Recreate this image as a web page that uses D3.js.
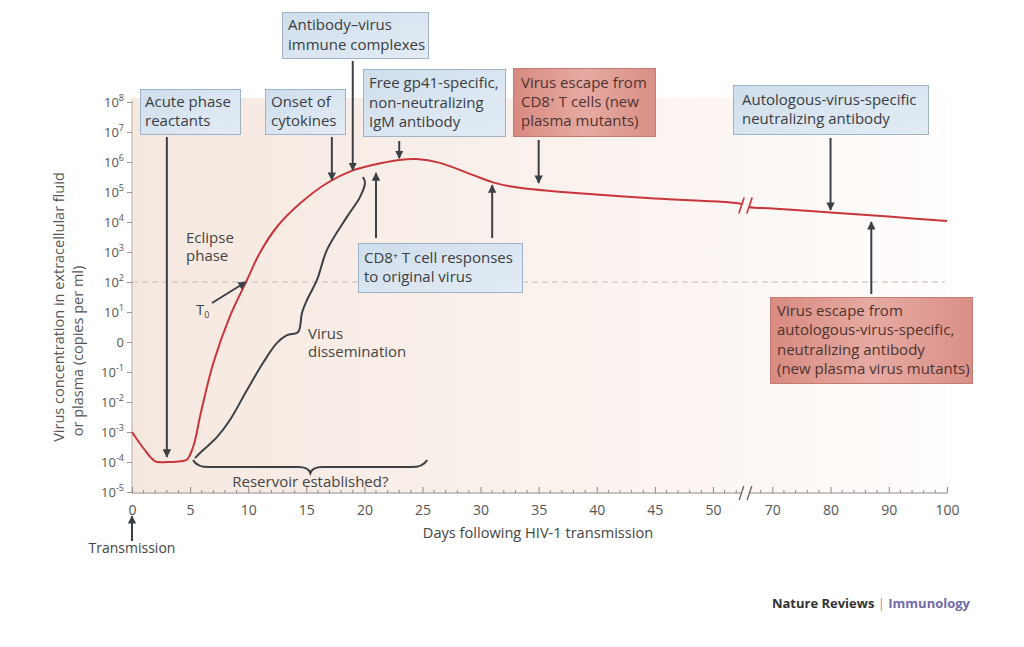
<!DOCTYPE html>
<html><head><meta charset="utf-8">
<script src="https://cdn.jsdelivr.net/npm/d3@7"></script>
<style>
body{margin:0;background:#fff}
svg{display:block}
text{font-family:"Open Sans",sans-serif}
</style>
</head><body>
<svg id="c" width="1024" height="647"></svg>
<script>
// ---------------- DATA ----------------
// Viral load curve: days after transmission vs log10(copies per ml)
const curveDays  = [0, 1, 2, 3, 4, 4.7, 5.3, 5.9, 7, 8.4, 9.9, 11.0, 12.5, 14.5, 16.8, 19, 20.7, 23, 24.5, 26.5, 29.3, 31, 32.5, 34.5, 37, 45, 52.5, 66, 70, 80, 90, 100];
const curveLog10 = [-3.0, -3.55, -3.98, -4.0, -3.98, -3.93, -3.45, -2.4, -0.7, 0.83, 2.07, 2.97, 3.85, 4.63, 5.3, 5.72, 5.9, 6.07, 6.1, 5.97, 5.57, 5.33, 5.19, 5.09, 5.0, 4.78, 4.6, 4.5, 4.45, 4.32, 4.18, 4.03];

// Virus dissemination bracket curve
const dissDays  = [5.42, 5.85, 7.31, 8.43, 9.9, 11.27, 12.48, 13.34, 14.29, 14.63, 15.06, 15.92, 16.78, 18.5, 19.62, 20.05, 19.88];
const dissLog10 = [-3.87, -3.7, -3.17, -2.6, -1.6, -0.7, -0.03, 0.23, 0.33, 0.97, 1.4, 2.07, 3.07, 4.17, 4.83, 5.3, 5.5];

// Axis ticks
const yTickExponents = [-5, -4, -3, -2, -1, 0, 1, 2, 3, 4, 5, 6, 7, 8];
const xMajorTicks = [0, 5, 10, 15, 20, 25, 30, 35, 40, 45, 50, 70, 80, 90, 100];
const xMinorTicks = d3.range(1, 53).concat(d3.range(68, 100, 2));
const thresholdLog10 = 2;

// Annotation boxes (text lines), kinds, and the day / level their arrows point to
const boxLines = [
  ["Acute phase", "reactants"],
  ["Onset of", "cytokines"],
  ["Antibody\u2013virus", "immune complexes"],
  ["Free gp41-specific,", "non-neutralizing", "IgM antibody"],
  ["Virus escape from", "CD8\u207A T cells (new", "plasma mutants)"],
  ["Autologous-virus-specific", "neutralizing antibody"],
  ["CD8\u207A T cell responses", "to original virus"],
  ["Virus escape from", "autologous-virus-specific,", "neutralizing antibody", "(new plasma virus mutants)"]
];
const boxKinds = ["host", "host", "host", "host", "virus", "host", "host", "virus"];
const arrowDays = [[3], [17.2], [19], [23], [35], [80], [21, 31], [87]];
const arrowTipLog10 = [[-3.83], [5.4], [5.73], [6.13], [5.3], [4.4], [5.63, 5.23], [4.0]];

// ---------------- LAYOUT ----------------
const svg = d3.select("#c");
const X0 = 132, Y0 = 102, YB = 492;
const xs = d3.scaleLinear().domain([0, 52.5, 66, 100]).range([X0, 742, 749, 947]);
const ys = d3.scaleLinear().domain([-5, 8]).range([YB, Y0]);
const FS = 15;

const defs = svg.append("defs");
const bg = defs.append("linearGradient").attr("id", "bg").attr("x1", 0).attr("x2", 1).attr("y1", 0).attr("y2", 0);
bg.append("stop").attr("offset", "0%").attr("stop-color", "#f5e8df");
bg.append("stop").attr("offset", "55%").attr("stop-color", "#fbf2ee");
bg.append("stop").attr("offset", "100%").attr("stop-color", "#fffdfc");
const blue = defs.append("linearGradient").attr("id", "blue").attr("x1", 0).attr("x2", 1).attr("y1", 0).attr("y2", 1);
blue.append("stop").attr("offset", "0%").attr("stop-color", "#cfdeec");
blue.append("stop").attr("offset", "100%").attr("stop-color", "#e3ecf5");
const red = defs.append("linearGradient").attr("id", "red").attr("x1", 0).attr("x2", 1).attr("y1", 0).attr("y2", 0);
red.append("stop").attr("offset", "0%").attr("stop-color", "#d88a80");
red.append("stop").attr("offset", "50%").attr("stop-color", "#e6aaa2");
red.append("stop").attr("offset", "100%").attr("stop-color", "#d98f86");
defs.append("marker").attr("id", "ah").attr("viewBox", "0 0 10 10").attr("refX", 9).attr("refY", 5)
  .attr("markerWidth", 4.2).attr("markerHeight", 4.2).attr("orient", "auto").attr("markerUnits", "strokeWidth")
  .append("path").attr("d", "M0,0 L10,5 L0,10 Z").attr("fill", "#3b4146");

// background of plot
svg.append("rect").attr("x", X0).attr("y", 98).attr("width", 947 - X0).attr("height", YB - 98).attr("fill", "url(#bg)");

// threshold dashed line
svg.append("line").attr("x1", X0).attr("x2", 945).attr("y1", ys(thresholdLog10)).attr("y2", ys(thresholdLog10))
  .attr("stroke", "#c4bdb8").attr("stroke-width", 1).attr("stroke-dasharray", "6,4");

// Y axis
const yAxis = svg.append("g").attr("transform", `translate(${X0},0)`)
  .call(d3.axisLeft(ys).tickValues(yTickExponents).tickSize(5).tickPadding(3).tickFormat(""));
yAxis.select(".domain").attr("stroke", "#b9ada5").attr("d", `M0,${Y0 - 2}V${YB}`);
yAxis.selectAll(".tick line").attr("stroke", "#9d948e");
yAxis.selectAll(".tick text").each(function(d) {
  const t = d3.select(this).attr("font-size", 13).attr("fill", "#555").attr("font-family", "'Open Sans',sans-serif");
  if (d === 0) { t.text("0"); return; }
  t.append("tspan").text("10");
  t.append("tspan").attr("font-size", 9).attr("dy", -6).text(d);
});

// X axis
const xAxis = svg.append("g").attr("transform", `translate(0,${YB + 1})`)
  .call(d3.axisBottom(xs).tickValues(xMajorTicks).tickSize(-6).tickPadding(12).tickFormat(d => d));
xAxis.select(".domain").attr("stroke", "#8f8884").attr("d", `M${X0},0H947`);
xAxis.selectAll(".tick line").attr("stroke", "#8f8884");
xAxis.selectAll(".tick text").attr("font-size", 14).attr("fill", "#555").attr("font-family", "'Open Sans',sans-serif");
xAxis.selectAll(".minor").data(xMinorTicks.filter(d => !xMajorTicks.includes(d))).enter().append("line")
  .attr("class", "minor").attr("x1", d => xs(d)).attr("x2", d => xs(d)).attr("y1", 0).attr("y2", -3).attr("stroke", "#8f8884");

// axis break
function breakMark(cx, cy, h, fill, stroke, sw) {
  const g = svg.append("g");
  g.append("path").attr("d", `M${cx - 4 - h / 3},${cy + h} L${cx - 4 + h / 3},${cy - h} L${cx + 4 + h / 3},${cy - h} L${cx + 4 - h / 3},${cy + h} Z`)
    .attr("fill", fill);
  [-4, 4].forEach(o => g.append("line").attr("x1", cx + o - h / 3).attr("y1", cy + h).attr("x2", cx + o + h / 3).attr("y2", cy - h)
    .attr("stroke", stroke).attr("stroke-width", sw));
}
breakMark((xs(52.5) + xs(66)) / 2, YB + 1, 7, "#fdf8f6", "#6a6360", 1.3);

// viral load curve
const line = d3.line().x(d => xs(d[0])).y(d => ys(d[1])).curve(d3.curveCatmullRom.alpha(0.5));
svg.append("path").datum(curveDays.map((d, i) => [d, curveLog10[i]]))
  .attr("d", line).attr("fill", "none").attr("stroke", "#c9353b").attr("stroke-width", 2);
breakMark((xs(52.5) + xs(66)) / 2, ys(4.55), 8, "#fcf6f4", "#c9353b", 1.6);

// dissemination bracket
const ink = "#3b4146";
svg.append("path").datum(dissDays.map((d, i) => [d, dissLog10[i]]))
  .attr("d", d3.line().x(d => xs(d[0])).y(d => ys(d[1])).curve(d3.curveCatmullRom.alpha(0.5)))
  .attr("fill", "none").attr("stroke", ink).attr("stroke-width", 2);

// reservoir brace
(function() {
  const x0 = xs(5.25), x1 = xs(25.4), xm = xs(15.35);
  const yE = ys(-3.93), yL = ys(-4.17), yT = ys(-4.37);
  svg.append("path")
    .attr("d", `M${x0},${yE} Q${x0 + 4},${yL} ${x0 + 16},${yL} L${xm - 12},${yL} Q${xm - 2},${yL} ${xm},${yT} Q${xm + 2},${yL} ${xm + 12},${yL} L${x1 - 16},${yL} Q${x1 - 4},${yL} ${x1},${yE}`)
    .attr("fill", "none").attr("stroke", ink).attr("stroke-width", 2);
  svg.append("text").attr("x", xm).attr("y", 487).attr("text-anchor", "middle").attr("font-size", FS).attr("fill", "#444").text("Reservoir established?");
})();

// annotation boxes
const boxRects = [
  [140, 89, 100, 45], [265, 89, 80, 45], [282, 12, 146, 46], [363, 69, 142, 67],
  [513, 68, 142, 68], [733, 85, 195, 49], [358, 243, 164, 49], [770, 297, 202, 86]
];
const textPad = [5, 6, 6, 6, 8, 9, 6, 7];
const arrowStartY = [137, 137, 61, 141, 140, 138, 238, 294];
boxLines.forEach((lines, i) => {
  const [bx, by, bw, bh] = boxRects[i];
  const kind = boxKinds[i];
  svg.append("rect").attr("x", bx + 0.5).attr("y", by + 0.5).attr("width", bw).attr("height", bh)
    .attr("fill", kind === "host" ? "url(#blue)" : "url(#red)")
    .attr("stroke", kind === "host" ? "#9fb3c8" : "#c47b71").attr("stroke-width", 1);
  const n = lines.length;
  const lh = 19.3;
  const firstBase = by + bh / 2 - (n - 1) * lh / 2 + 5;
  const t = svg.append("text").attr("font-size", FS).attr("fill", kind === "host" ? "#3a3d42" : "#4e3431");
  lines.forEach((l, j) => t.append("tspan").attr("x", bx + textPad[i]).attr("y", firstBase + j * lh).text(l));
  arrowDays[i].forEach((d, k) => {
    svg.append("line").attr("x1", xs(d)).attr("x2", xs(d)).attr("y1", arrowStartY[i]).attr("y2", ys(arrowTipLog10[i][k]))
      .attr("stroke", ink).attr("stroke-width", 2).attr("marker-end", "url(#ah)");
  });
});

// free labels
svg.append("text").attr("font-size", FS).attr("fill", "#444")
  .selectAll("tspan").data(["Eclipse", "phase"]).enter().append("tspan").attr("x", 186).attr("y", (d, i) => 243 + i * 18).text(d => d);
svg.append("text").attr("font-size", FS).attr("fill", "#444")
  .selectAll("tspan").data(["Virus", "dissemination"]).enter().append("tspan").attr("x", 308).attr("y", (d, i) => 339 + i * 18).text(d => d);
const t0 = svg.append("text").attr("x", 196).attr("y", 315).attr("font-size", FS).attr("fill", "#444");
t0.append("tspan").text("T");
t0.append("tspan").attr("font-size", 9).attr("dy", 3).text("0");
svg.append("line").attr("x1", 212).attr("y1", 303).attr("x2", xs(9.8)).attr("y2", ys(2.0))
  .attr("stroke", ink).attr("stroke-width", 2).attr("marker-end", "url(#ah)");

// transmission arrow & label
svg.append("line").attr("x1", xs(0)).attr("x2", xs(0)).attr("y1", 541).attr("y2", 516)
  .attr("stroke", ink).attr("stroke-width", 2).attr("marker-end", "url(#ah)");
svg.append("text").attr("x", xs(0)).attr("y", 553).attr("text-anchor", "middle").attr("font-size", 14).attr("fill", "#444").text("Transmission");

// axis titles
svg.append("text").attr("x", 538).attr("y", 538).attr("text-anchor", "middle").attr("font-size", 14.6).attr("fill", "#444")
  .text("Days following HIV-1 transmission");
svg.append("text").attr("transform", "translate(64,307) rotate(-90)").attr("text-anchor", "middle").attr("font-size", 14.5).attr("fill", "#555")
  .text("Virus concentration in extracellular fluid");
svg.append("text").attr("transform", "translate(83,351) rotate(-90)").attr("text-anchor", "middle").attr("font-size", 14.5).attr("fill", "#555")
  .text("or plasma (copies per ml)");

// credit
const cr = svg.append("text").attr("x", 970).attr("y", 608).attr("text-anchor", "end").attr("font-size", 13);
cr.append("tspan").attr("font-weight", "bold").attr("fill", "#333").text("Nature Reviews");
cr.append("tspan").attr("fill", "#999").text(" | ");
cr.append("tspan").attr("font-weight", "bold").attr("fill", "#6f6aa9").text("Immunology");
</script>
</body></html>
